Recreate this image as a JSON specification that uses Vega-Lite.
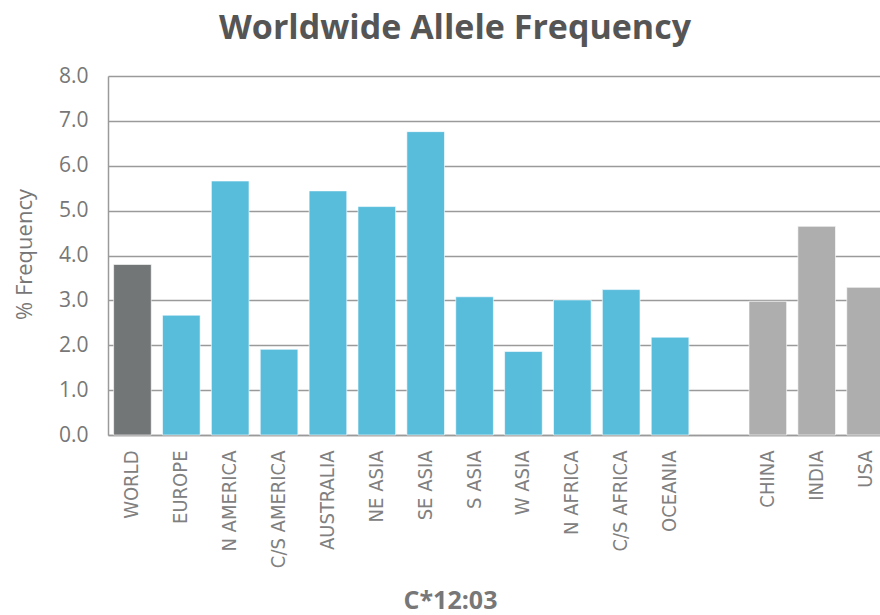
{
  "$schema": "https://vega.github.io/schema/vega-lite/v6.json",
  "width": 772,
  "height": 359,
  "autosize": {"type": "none"},
  "padding": {"left": 108, "top": 76, "right": 0, "bottom": 180},
  "background": "white",
  "config": {"view": {"stroke": null}},
  "title": {
    "text": "Worldwide Allele Frequency",
    "font": "Open Sans",
    "fontSize": 34,
    "fontWeight": "bold",
    "color": "#555555",
    "anchor": "middle",
    "dx": -39,
    "offset": 19
  },
  "data": {
    "values": [
      {"region": "WORLD", "value": 3.8, "group": "world"},
      {"region": "EUROPE", "value": 2.67, "group": "region"},
      {"region": "N AMERICA", "value": 5.66, "group": "region"},
      {"region": "C/S AMERICA", "value": 1.91, "group": "region"},
      {"region": "AUSTRALIA", "value": 5.44, "group": "region"},
      {"region": "NE ASIA", "value": 5.09, "group": "region"},
      {"region": "SE ASIA", "value": 6.76, "group": "region"},
      {"region": "S ASIA", "value": 3.08, "group": "region"},
      {"region": "W ASIA", "value": 1.86, "group": "region"},
      {"region": "N AFRICA", "value": 3.01, "group": "region"},
      {"region": "C/S AFRICA", "value": 3.24, "group": "region"},
      {"region": "OCEANIA", "value": 2.18, "group": "region"},
      {"region": "CHINA", "value": 2.98, "group": "country"},
      {"region": "INDIA", "value": 4.65, "group": "country"},
      {"region": "USA", "value": 3.29, "group": "country"}
    ]
  },
  "mark": {"type": "bar", "stroke": "#ffffff", "strokeOpacity": 0.6, "strokeWidth": 1},
  "encoding": {
    "x": {
      "field": "region",
      "type": "nominal",
      "sort": null,
      "scale": {
        "domain": ["WORLD", "EUROPE", "N AMERICA", "C/S AMERICA", "AUSTRALIA", "NE ASIA", "SE ASIA", "S ASIA", "W ASIA", "N AFRICA", "C/S AFRICA", "OCEANIA", " ", "CHINA", "INDIA", "USA"],
        "range": [0, 782],
        "paddingInner": 0.23,
        "paddingOuter": 0.115
      },
      "axis": {
        "labelAngle": -90,
        "labelAlign": "right",
        "labelBaseline": "middle",
        "labelPadding": 15,
        "labelFont": "DejaVu Sans Condensed",
        "labelFontSize": 20,
        "labelColor": "#808080",
        "ticks": false,
        "domainColor": "#9a9a9a",
        "domainWidth": 1.5,
        "title": "C*12:03",
        "titleFont": "Open Sans",
        "titleFontSize": 25,
        "titleFontWeight": "bold",
        "titleColor": "#777777",
        "titleX": 342,
        "titleY": 173,
        "titleAlign": "center",
        "titleBaseline": "alphabetic"
      }
    },
    "y": {
      "field": "value",
      "type": "quantitative",
      "scale": {"domain": [0, 8], "nice": false},
      "axis": {
        "values": [0, 1, 2, 3, 4, 5, 6, 7, 8],
        "format": ".1f",
        "grid": true,
        "gridColor": "#9a9a9a",
        "gridWidth": 1.5,
        "domain": true,
        "domainColor": "#9a9a9a",
        "domainWidth": 1.5,
        "ticks": false,
        "labelFont": "Open Sans",
        "labelFontSize": 21,
        "labelColor": "#777777",
        "labelPadding": 20,
        "title": "% Frequency",
        "titleFont": "Open Sans",
        "titleFontSize": 22,
        "titleFontWeight": "normal",
        "titleColor": "#777777",
        "titleX": -84,
        "titleY": 178,
        "titleAngle": -90,
        "titleAlign": "center",
        "titleBaseline": "middle"
      }
    },
    "color": {
      "field": "group",
      "type": "nominal",
      "scale": {"domain": ["world", "region", "country"], "range": ["#737677", "#58BCDB", "#AEAEAE"]},
      "legend": null
    }
  }
}
